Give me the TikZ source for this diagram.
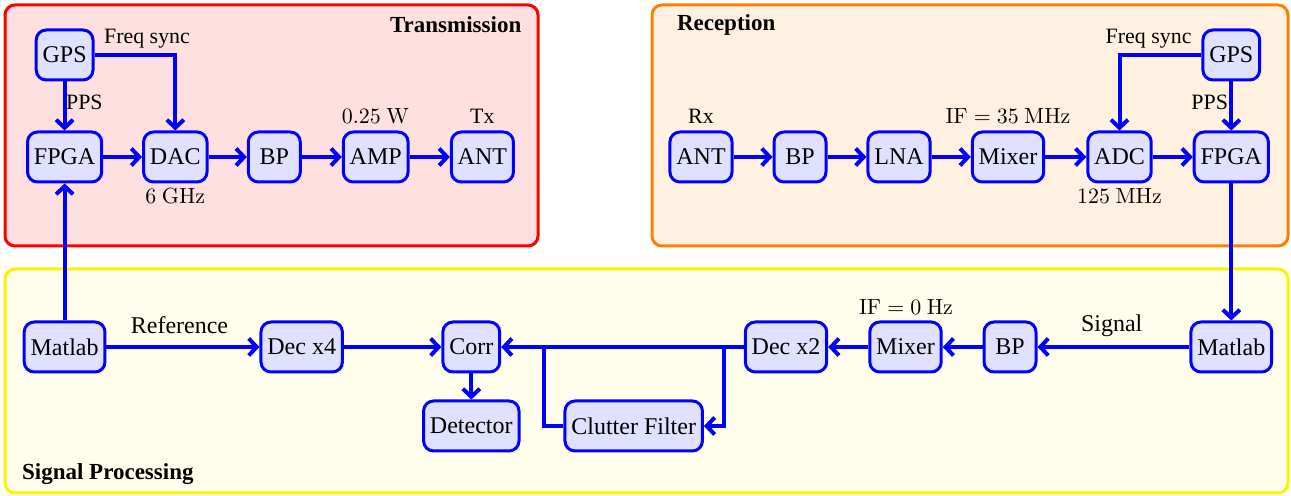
\documentclass[tikz,border=0pt]{standalone}
\usepackage[no-math]{fontspec}
\setmainfont{Liberation Serif}
\usetikzlibrary{arrows.meta}
\begin{document}
\begin{tikzpicture}[x=0.5pt,y=-0.5pt,
  blk/.style={draw=blue, fill=blue!12, line width=1.5pt, rounded corners=5pt,
    minimum height=25pt, minimum width=26pt, inner xsep=3.2pt,
    font=\fontsize{12}{14}\selectfont},
  lbl/.style={font=\fontsize{10.95}{13}\selectfont, inner sep=0pt, anchor=base},
  lblb/.style={font=\fontsize{12}{14}\selectfont, inner sep=0pt, anchor=base},
  ttl/.style={font=\fontsize{11.5}{14}\selectfont\bfseries, inner sep=0pt},
  con/.style={draw=blue, line width=2pt, -{Straight Barb[length=4pt,width=8.5pt]}},
  ln/.style={draw=blue, line width=2pt},
  frm/.style={line width=1.5pt, rounded corners=5pt}]
\useasboundingbox (0,0) rectangle (1291,496);
% frames
\draw[frm, draw=red, fill=red!12] (5,5) rectangle (538,246);
\draw[frm, draw=orange, fill=orange!12] (652,5) rectangle (1288,246);
\draw[frm, draw=yellow, fill=yellow!7] (5,269) rectangle (1288,493);
\node[ttl, anchor=base east] (ttrans) at (521.7,32.3) {Transmission};
\node[ttl, anchor=base west] (trecep) at (676.6,30.7) {Reception};
\node[ttl, anchor=base west] (tsig) at (21.7,479.3) {Signal Processing};
% transmission
\node[blk] (tgps) at (64.6,55) {GPS};
\node[blk] (tfpga) at (64.6,157) {FPGA};
\node[blk] (tdac) at (175.3,157) {DAC};
\node[blk] (tbp) at (274.3,157) {BP};
\node[blk] (tamp) at (375.7,157) {AMP};
\node[blk] (tant) at (482.4,157) {ANT};
\draw[con] (tgps) -- (tfpga);
\draw[con] (tgps.east) -| (tdac.north);
\draw[con] (tfpga) -- (tdac);
\draw[con] (tdac) -- (tbp);
\draw[con] (tbp) -- (tamp);
\draw[con] (tamp) -- (tant);
\node[lbl] (lfs1) at (147,43.3) {Freq sync};
\node[lbl] (lpps1) at (84.4,110) {PPS};
\node[lbl] (lw) at (375.5,123.3) {$0.25\ \mathrm{W}$};
\node[lbl] (ltx) at (482.4,123.3) {Tx};
\node[lbl] (lghz) at (175.3,204) {$6\ \mathrm{GHz}$};
% reception
\node[blk] (rant) at (701,157) {ANT};
\node[blk] (rbp) at (800,157) {BP};
\node[blk] (rlna) at (899,157) {LNA};
\node[blk] (rmix) at (1008,157) {Mixer};
\node[blk] (radc) at (1119.5,157) {ADC};
\node[blk] (rfpga) at (1231.3,157) {FPGA};
\node[blk] (rgps) at (1231.3,55) {GPS};
\draw[con] (rant) -- (rbp);
\draw[con] (rbp) -- (rlna);
\draw[con] (rlna) -- (rmix);
\draw[con] (rmix) -- (radc);
\draw[con] (radc) -- (rfpga);
\draw[con] (rgps) -- (rfpga);
\draw[con] (rgps.west) -| (radc.north);
\node[lbl] (lfs2) at (1148.6,44) {Freq sync};
\node[lbl] (lpps2) at (1209.7,110) {PPS};
\node[lbl] (lrx) at (701,123.3) {Rx};
\node[lbl] (lif35) at (1008,123.3) {$\mathrm{IF}=35\ \mathrm{MHz}$};
\node[lbl] (l125) at (1119.5,203.3) {$125\ \mathrm{MHz}$};
% signal processing
\node[blk] (smatl) at (64.6,347) {Matlab};
\node[blk] (sdec4) at (301.7,347) {Dec x4};
\node[blk] (corr) at (471.3,347) {Corr};
\node[blk] (det) at (471.3,426) {Detector};
\node[blk] (clut) at (633.7,426) {Clutter Filter};
\node[blk] (dec2) at (786,347) {Dec x2};
\node[blk] (smix) at (905.5,347) {Mixer};
\node[blk] (sbp) at (1010,347) {BP};
\node[blk] (smatr) at (1231.3,347) {Matlab};
\coordinate (j1) at (724,347);
\coordinate (j2) at (544,347);
\draw[con] (smatl) -- (tfpga);
\draw[con] (smatl) -- (sdec4);
\draw[con] (sdec4) -- (corr);
\draw[con] (corr) -- (det);
\draw[con] (dec2) -- (corr);
\draw[con] (j1) |- (clut.east);
\draw[ln] (clut.west) -| (j2);
\draw[con] (rfpga) -- (smatr);
\draw[con] (smatr) -- (sbp);
\draw[con] (sbp) -- (smix);
\draw[con] (smix) -- (dec2);
\node[lblb] (lref) at (179.5,333.3) {Reference};
\node[lblb] (lsig) at (1111.7,331.7) {Signal};
\node[lbl] (lif0) at (906,315) {$\mathrm{IF}=0\ \mathrm{Hz}$};
\end{tikzpicture}
\end{document}
